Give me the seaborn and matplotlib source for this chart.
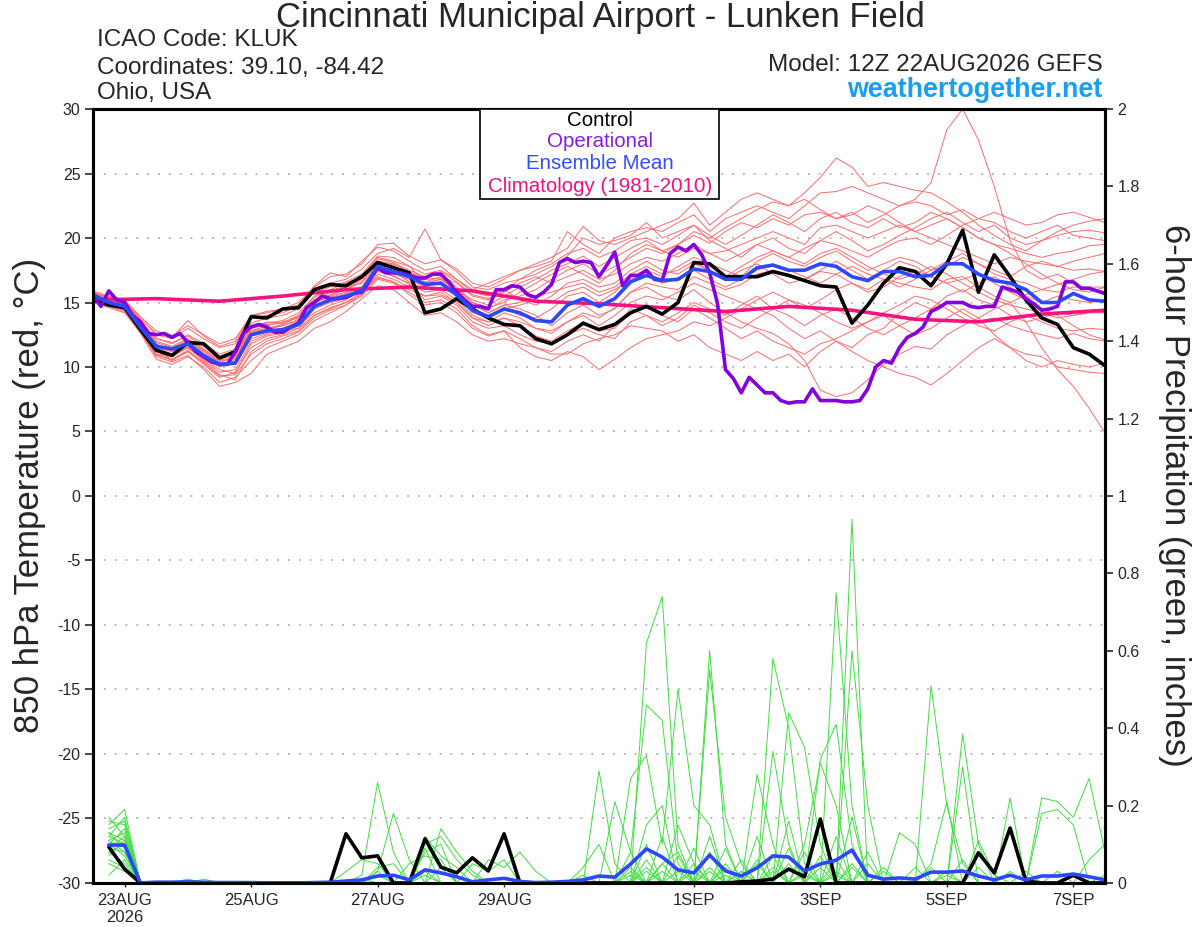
import numpy as np
import pandas as pd
import matplotlib
matplotlib.use("Agg")
import matplotlib.pyplot as plt
import seaborn as sns
from matplotlib.patches import Rectangle

# ---------------- DATA ----------------
TEMP_HOURS = list(range(0, 385, 6))      # 12Z 22AUG .. 12Z 07SEP, 6-hourly
OPER_HOURS = list(range(0, 385, 3))      # operational run, 3-hourly
PREC_HOURS = list(range(6, 385, 6))      # 6-hour precip ending times
CLIM_HOURS = list(range(0, 385, 24))     # daily climatology

tick_hours = [12, 60, 108, 156, 228, 276, 324, 372]
tick_labels = ["23AUG\n2026", "25AUG", "27AUG", "29AUG", "1SEP", "3SEP", "5SEP", "7SEP"]

control_temp = [15.2,14.8,14.6,12.9,11.3,10.9,11.9,11.8,10.7,11.2,
                13.9,13.8,14.5,14.6,16.0,16.4,16.3,17.0,18.1,17.7,
                17.3,14.2,14.5,15.3,14.5,13.8,13.3,13.2,12.2,11.8,
                12.5,13.4,12.9,13.3,14.2,14.7,14.1,15.0,18.1,18.0,
                17.0,17.0,17.0,17.4,17.1,16.7,16.3,16.2,13.4,14.8,
                16.5,17.7,17.4,16.3,18.0,20.6,15.8,18.7,17.0,15.2,
                13.8,13.3,11.5,11.0,10.1]

mean_temp = [15.6,15.0,14.7,13.1,11.6,11.4,11.8,10.9,10.2,10.3,
             12.5,12.8,12.9,13.3,14.7,15.2,15.5,15.9,17.8,17.4,
             17.0,16.4,16.5,15.6,14.4,13.9,14.5,14.2,13.6,13.5,
             14.8,15.3,14.7,15.3,16.6,17.1,16.7,16.8,17.6,17.4,
             16.8,16.8,17.7,17.9,17.5,17.5,18.0,17.8,17.0,16.7,
             17.4,17.4,17.0,17.1,18.0,18.0,17.2,16.7,16.5,16.0,
             15.0,15.0,15.7,15.2,15.1]

oper_temp = [15.6,14.7,15.9,15.2,15.0,14.0,13.5,12.6,12.5,12.6,
             12.3,12.6,11.9,11.2,10.8,10.4,10.2,10.2,11.2,12.6,
             13.1,13.3,13.1,12.7,12.7,13.1,13.4,14.6,15.0,15.5,
             15.3,15.3,15.4,15.7,15.8,16.7,17.7,17.3,17.3,17.3,
             17.1,16.9,16.9,17.2,17.2,16.6,15.8,15.2,14.7,14.7,
             14.5,16.0,16.0,16.3,16.2,15.6,15.4,15.8,16.4,18.1,
             18.4,18.1,18.2,18.1,17.0,17.9,18.9,16.3,17.1,17.1,
             17.5,16.8,16.7,18.8,19.3,19.0,19.5,18.7,17.3,14.9,
             9.8,9.1,8.0,9.2,8.6,8.0,8.0,7.4,7.2,7.3,
             7.3,8.3,7.4,7.4,7.4,7.3,7.3,7.4,8.3,10.0,
             10.5,10.3,11.5,12.3,12.6,13.1,14.3,14.6,15.0,15.0,
             15.0,14.7,14.6,14.7,14.7,16.2,16.0,15.8,15.3,14.9,
             14.4,14.5,14.7,16.6,16.6,16.1,16.1,15.9,15.7]

clim_temp = [15.2,15.3,15.1,15.5,16.0,16.2,15.9,15.1,14.9,14.6,
             14.3,14.7,14.4,13.7,13.5,14.1,14.4]

t_mem01 = [15.5,15.2,14.9,13.4,11.8,11.2,12.0,11.2,10.4,10.8, 12.8,13.2,13.5,13.8,15.0,15.6,16.0,16.8,18.2,18.0,
           17.4,16.8,16.9,16.0,15.2,14.8,15.5,16.2,16.8,17.5, 18.0,18.6,17.8,18.5,19.2,19.8,19.0,19.5,20.2,19.6,
           20.5,21.2,20.8,21.5,21.0,21.8,22.0,21.5,22.0,21.2, 21.8,22.5,23.0,24.3,28.4,30.0,27.6,24.0,19.8,17.5,
           16.8,17.2,16.5,16.0,15.8]
t_mem02 = [15.4,14.9,14.5,12.8,11.0,10.8,11.5,10.5,9.6,9.8, 12.0,12.5,12.8,13.0,14.5,15.0,15.3,15.8,17.5,17.0,
           16.5,15.8,16.0,15.2,14.0,13.5,14.2,13.8,13.0,12.6, 13.5,14.2,13.8,14.6,15.8,16.5,16.2,16.0,17.0,16.5,
           16.0,16.4,17.2,17.5,17.0,16.8,17.4,17.2,16.5,16.0, 16.8,16.5,16.2,16.0,16.8,17.0,16.2,15.5,15.0,13.5,
           11.5,9.8,8.5,6.8,4.9]
t_mem03 = [15.8,15.3,15.0,13.6,12.2,11.9,12.4,11.6,10.8,11.0, 13.0,13.5,13.4,14.0,15.2,15.8,16.2,16.5,18.0,17.8,
           17.2,17.0,17.2,16.2,15.0,14.2,14.8,14.5,14.0,13.2, 14.2,14.8,14.0,14.5,15.8,16.2,15.5,15.2,16.0,15.0,
           14.2,13.5,13.0,12.6,11.8,10.5,8.2,7.7,8.0,9.0, 10.2,11.0,11.6,11.4,12.5,13.2,13.8,14.5,15.0,15.6,
           16.0,16.4,16.8,17.2,17.4]
t_mem04 = [15.6,15.1,14.8,13.2,11.5,11.0,11.6,10.8,10.0,10.5, 12.6,12.9,13.2,13.6,15.0,15.5,15.8,16.2,18.0,17.6,
           17.0,16.5,16.8,15.8,14.8,14.5,15.2,15.5,16.0,16.8, 17.5,18.0,17.2,17.8,18.5,19.2,18.8,19.5,20.5,20.0,
           20.8,21.5,22.2,22.8,22.5,23.5,24.7,26.2,25.5,24.0, 24.3,24.0,23.7,23.5,22.8,22.0,21.0,20.2,19.5,19.0,
           19.8,20.5,21.0,21.3,21.5]
t_mem05 = [15.2,14.7,14.3,12.6,10.6,10.2,10.8,10.0,8.8,9.2, 10.5,11.5,12.0,12.5,13.6,14.2,14.8,15.5,16.8,16.5,
           15.8,15.0,15.2,14.5,13.2,12.5,12.8,11.5,10.8,10.5, 11.2,10.8,9.8,10.6,11.5,12.2,12.5,12.8,13.5,13.2,
           13.8,14.5,15.2,15.8,15.2,14.5,15.2,16.0,16.5,15.8, 16.2,17.0,17.5,17.0,16.5,16.8,17.2,16.5,15.8,15.2,
           14.5,14.0,13.2,12.5,12.1]
t_mem06 = [15.7,15.4,15.2,13.8,12.5,12.2,13.0,12.2,11.5,11.8, 13.8,14.0,14.2,14.8,16.0,16.5,16.8,17.6,18.8,19.2,
           18.5,20.7,18.3,17.4,16.2,16.0,16.5,16.8,17.2,17.8, 18.6,20.0,19.5,19.8,20.2,21.2,20.0,20.5,21.0,19.8,
           19.2,18.5,19.5,20.0,19.2,18.8,19.8,20.5,19.8,19.0, 19.5,20.2,20.8,21.5,22.0,21.2,20.5,21.0,20.0,19.5,
           19.8,20.2,20.5,20.6,20.4]
t_mem07 = [15.3,14.8,14.4,13.0,11.2,10.6,11.2,10.4,9.4,9.0, 11.2,12.0,12.4,12.8,14.0,14.6,15.0,15.6,17.2,16.8,
           16.2,15.5,15.6,15.0,13.8,13.2,13.8,13.2,12.4,12.0, 12.8,13.4,12.8,13.0,14.2,14.8,14.0,13.5,14.5,13.8,
           13.0,12.2,12.8,12.0,11.5,11.0,11.8,12.2,12.8,13.5, 14.0,13.2,12.5,13.0,13.8,14.5,13.8,12.5,11.5,10.5,
           10.0,10.5,10.2,10.0,10.3]
t_mem08 = [15.9,15.5,15.2,13.9,12.8,12.4,13.2,12.5,11.8,12.2, 14.0,14.2,14.5,15.0,16.2,17.0,17.2,18.0,19.5,19.6,
           18.6,18.0,18.3,17.6,16.5,16.2,16.8,17.5,18.0,18.5, 19.2,20.9,19.8,19.5,20.0,20.5,21.0,21.5,22.7,21.0,
           22.0,23.0,23.5,23.0,22.5,23.0,22.2,21.5,21.8,22.5, 22.0,21.2,20.5,21.0,21.5,20.8,20.0,19.5,19.2,18.8,
           18.5,18.8,19.0,19.4,19.5]
t_mem09 = [15.5,15.0,14.6,13.2,11.6,11.3,11.9,11.0,10.3,10.4, 12.4,12.7,13.0,13.5,14.8,15.3,15.6,16.0,17.6,17.2,
           16.8,16.2,16.6,15.4,14.2,13.8,14.6,14.0,13.8,14.5, 15.5,15.8,15.0,15.8,17.0,17.5,17.0,17.8,18.5,18.0,
           17.5,17.0,18.2,18.8,18.2,17.8,18.5,19.0,18.2,17.5, 18.0,18.5,18.2,17.5,17.8,18.5,18.0,17.2,16.8,16.5,
           16.0,15.8,16.2,16.2,16.2]
t_mem10 = [15.0,14.6,14.2,12.7,10.8,10.4,10.9,9.8,8.5,8.8, 9.5,11.0,11.5,12.0,13.0,13.5,14.3,15.3,16.3,16.0,
           15.0,14.0,14.2,13.5,12.5,12.0,12.2,11.8,11.5,11.0, 11.0,11.8,12.2,12.5,13.2,13.0,12.8,12.0,12.5,11.5,
           11.0,10.5,11.2,10.5,11.0,10.0,11.2,12.0,11.5,12.5, 13.0,14.2,15.0,14.5,15.5,16.0,15.2,14.8,14.0,13.5,
           13.8,14.2,14.0,14.3,14.2]
t_mem11 = [15.8,15.4,15.1,13.7,12.6,12.3,13.6,12.4,11.6,12.0, 14.0,14.3,14.5,14.8,16.3,17.3,17.0,18.2,19.3,19.0,
           18.2,17.5,17.8,16.8,16.0,16.5,17.0,17.5,17.8,18.2, 20.5,19.5,18.8,20.0,20.5,20.8,20.5,21.2,21.8,20.5,
           21.5,22.0,22.5,22.0,21.5,22.5,23.5,23.6,24.0,23.5, 23.0,22.5,22.8,22.5,21.8,22.2,21.5,22.0,21.5,21.0,
           21.2,21.8,22.0,21.6,21.2]
t_mem12 = [15.4,14.8,14.5,13.0,11.4,10.9,11.5,10.6,9.8,9.5, 11.8,12.4,12.6,13.2,14.2,14.8,15.2,16.0,17.4,17.1,
           16.4,15.2,15.5,14.8,13.5,13.0,13.2,12.5,12.0,11.8, 12.5,13.0,12.5,12.2,13.5,14.0,13.5,14.2,15.0,14.5,
           14.0,14.8,15.5,14.5,14.0,13.2,14.0,14.5,13.8,13.0, 12.5,13.2,13.8,14.5,15.0,14.2,13.5,13.8,13.2,12.8,
           12.5,12.2,12.6,12.2,12.0]
t_mem13 = [15.6,15.2,14.9,13.5,12.0,11.6,12.2,11.4,10.6,11.0, 13.2,13.4,13.6,14.2,15.5,16.0,16.5,17.0,18.5,18.2,
           17.8,16.6,17.0,16.5,15.5,15.2,15.8,16.5,17.0,16.5, 17.0,17.5,16.8,17.2,18.0,18.5,18.2,18.8,19.5,18.8,
           19.0,19.5,20.0,20.5,20.0,19.5,20.8,21.0,20.5,20.0, 20.5,21.0,20.5,20.0,19.5,19.0,18.5,18.0,18.5,18.2,
           18.0,17.8,18.2,18.5,18.8]
t_mem14 = [15.3,14.9,14.4,12.9,11.0,10.5,11.2,10.2,9.2,9.6, 11.5,12.2,12.5,13.0,14.0,14.5,15.0,15.8,17.0,16.6,
           16.0,15.5,15.8,15.0,13.8,13.5,13.8,13.5,13.0,12.8, 13.5,14.0,13.2,14.0,15.0,15.5,15.2,15.8,16.5,16.0,
           15.5,15.0,14.5,14.0,13.0,12.2,12.8,12.0,11.2,10.5, 10.0,9.5,9.2,8.6,9.5,10.5,11.5,12.2,11.5,11.0,
           10.8,10.0,9.8,9.6,9.5]
t_mem15 = [15.7,15.3,15.0,13.5,12.2,11.8,12.5,11.8,11.0,11.4, 13.4,13.8,14.0,14.5,15.8,16.2,16.6,17.2,18.6,18.5,
           17.8,17.2,17.5,16.8,15.8,15.5,16.0,15.2,14.8,15.5, 16.5,16.8,16.2,16.5,17.5,18.2,17.5,17.2,18.0,17.5,
           16.8,17.5,18.0,17.2,16.5,16.8,17.5,18.2,17.5,16.8, 17.5,18.2,17.8,17.0,16.5,15.8,16.5,17.0,16.2,15.5,
           15.0,15.5,15.2,15.0,15.2]
t_mem16 = [15.5,15.1,14.7,13.3,11.7,11.4,12.0,11.2,10.4,10.7, 12.7,13.0,13.3,13.9,15.2,15.6,16.0,16.6,18.2,17.9,
           17.2,16.5,16.8,16.0,15.0,14.6,15.0,15.8,16.5,17.2, 17.8,17.2,16.5,17.5,18.8,19.5,19.0,18.5,19.2,18.8,
           18.2,18.8,19.5,19.0,18.5,19.2,19.8,19.5,19.0,18.5, 19.2,19.8,20.0,19.5,20.2,21.0,21.5,21.2,20.5,20.0,
           20.5,21.0,20.2,20.0,19.8]
t_mem17 = [15.4,15.0,14.6,13.1,11.3,11.0,11.7,10.9,10.1,10.2, 12.2,12.6,12.9,13.4,14.6,15.1,15.4,16.1,17.6,17.4,
           16.6,16.0,16.2,15.5,14.5,14.0,14.5,14.8,15.2,15.0, 15.8,16.2,15.5,16.0,16.8,17.2,16.5,16.8,17.5,16.8,
           16.2,16.8,17.5,18.0,17.5,17.0,16.5,17.2,17.8,17.2, 16.8,16.2,16.8,17.5,18.2,18.8,18.0,17.5,17.0,17.8,
           18.2,17.8,17.5,17.6,17.4]
t_mem18 = [15.2,14.8,14.4,12.8,10.9,10.6,11.3,10.3,9.3,9.4, 11.0,11.8,12.2,12.7,13.8,14.4,14.8,15.7,16.9,16.6,
           15.6,14.8,15.0,14.2,13.0,12.4,12.8,12.2,11.5,11.2, 12.0,12.5,12.0,13.2,14.5,14.0,13.2,13.8,14.8,14.2,
           13.5,13.0,13.8,14.5,15.2,14.8,14.2,13.5,13.0,13.5, 14.2,14.8,15.5,15.2,14.5,13.8,13.2,12.8,13.5,14.0,
           13.5,13.0,12.8,13.0,12.9]
t_mem19 = [15.6,15.2,14.8,13.4,11.9,11.5,12.1,11.3,10.5,10.9, 13.0,13.3,13.4,14.0,15.4,15.9,16.3,16.9,18.4,18.1,
           17.5,17.0,17.4,16.6,15.6,15.3,15.9,16.8,17.5,18.0, 18.8,19.2,18.5,19.0,19.8,20.0,19.5,20.2,21.0,20.2,
           19.5,20.2,21.0,21.8,21.2,20.5,21.5,22.0,21.2,20.8, 21.5,20.8,21.2,22.0,21.5,20.8,20.0,19.5,18.8,18.0,
           17.2,16.5,16.0,15.8,16.2]
t_mem20 = [15.5,15.0,14.7,13.2,11.5,11.2,11.8,11.0,10.2,10.6, 12.8,13.0,13.2,13.7,15.0,15.4,15.7,16.2,17.8,17.5,
           16.9,16.3,16.6,15.8,14.8,14.2,14.8,15.0,15.5,15.8, 16.2,16.5,15.8,16.2,17.2,17.8,17.2,17.5,18.2,17.5,
           17.0,17.8,18.5,19.0,18.5,18.0,18.8,19.2,18.5,17.8, 17.2,16.8,17.2,17.8,17.2,16.5,15.8,15.2,14.8,14.5,
           14.2,13.8,14.0,14.2,14.2]

control_prec = [.093,.036,0,0,0,0,0,0,  0,0,0,0,0,0,0,.127,  .065,.07,0,0,.114,.041,.026,.065,
                .031,.127,0,0,0,0,0,0,  0,0,0,0,0,0,0,0,  .003,.005,.01,.036,.016,.165,0,0,
                0,0,0,0,0,0,0,.078,  .026,.142,.005,0,0,.02,0,0]
mean_prec = [.098,.098,0,.002,.002,.003,.002,.001,  .001,.001,0,0,0,.001,.002,.005,
             .008,.018,.02,.008,.034,.026,.016,.003,  .008,.012,.004,.001,.002,.004,.008,.018,
             .015,.049,.088,.067,.034,.026,.072,.031,  .018,.039,.07,.067,.031,.049,.059,.085,
             .02,.01,.013,.01,.028,.028,.031,.018,  .008,.02,.008,.018,.018,.023,.016,.008]

p_mem01 = [.17,.12,0,0,0,0,0,0, 0,0,0,0,0,0,0,0, .02,.26,.08,0,0,0,0,0, 0,0,0,0,0,0,0,.29,
           .05,0,.62,.74,.10,0,.60,.10, 0,0,.58,.40,.05,0,0,.94, 0,0,0,0,0,0,0,0, 0,0,0,0,0,0,0,0]
p_mem02 = [.15,.19,0,0,0,0,0,0, 0,0,0,0,0,0,0,0, 0,.03,.18,.06,0,0,0,0, 0,0,0,0,0,0,0,0,
           .21,.08,.46,.42,.05,0,0,0, 0,.28,.10,0,0,0,.75,.20, 0,0,0,0,.51,.20,.05,0, 0,0,0,0,0,0,0,0]
p_mem03 = [.12,.10,0,0,0,0,0,0, 0,0,0,0,0,0,0,0, 0,0,0,0,.12,.07,.04,0, 0,0,0,0,0,0,0,0,
           0,.27,.33,.10,.50,.20,.15,0, 0,0,0,.44,.35,.10,0,.60, .20,0,0,0,0,0,.385,.10, 0,0,0,0,0,0,0,0]
p_mem04 = [.10,.14,0,0,0,0,0,0, 0,0,0,0,0,0,0,0, 0,0,0,0,0,.14,.08,.03, 0,0,0,0,0,0,0,0,
           0,0,.15,.20,0,0,.55,.17, .05,0,.34,.10,0,.32,.41,.10, 0,0,0,0,0,0,.30,0, 0,.22,0,0,0,0,0,0]
p_mem05 = [.09,.08,0,0,0,0,.01,0, 0,0,0,0,0,0,0,.03, .06,.05,0,0,.09,0,0,0, 0,0,0,0,0,0,.04,.10,
           0,0,.10,0,.15,.05,0,0, 0,0,0,0,.10,.31,.20,0, 0,0,0,0,0,0,0,0, 0,0,0,.22,.21,.17,.27,.08]
p_mem06 = [.14,.16,0,0,0,0,0,0, 0,0,0,0,0,0,0,0, 0,0,0,0,.10,.12,.06,.02, 0,0,0,0,0,0,0,0,
           0,.08,0,.12,0,.09,0,.05, 0,.12,0,.16,0,0,0,.17, 0,0,.13,.10,0,0,0,0, 0,0,0,.18,.19,.15,0,0]
p_mem07 = [.08,.05,0,0,0,0,0,0, 0,0,0,0,0,0,0,0, 0,0,0,0,0,0,0,0, .06,.04,.08,.03,0,0,0,0,
           0,0,0,.05,.08,0,.12,0, .03,0,.07,0,0,0,.06,0, 0,.04,0,0,.05,.21,0,0, 0,0,0,0,0,0,0,0]
p_mem08 = [.11,.13,0,0,0,0,0,0, 0,0,0,0,0,0,0,0, 0,0,0,.05,.07,.06,0,0, 0,0,0,0,0,0,0,0,
           0,0,.06,0,0,.03,0,.04, 0,.05,0,0,.08,0,0,0, .05,0,0,0,0,0,0,.11, .02,0,0,0,0,0,0,0]
p_mem09 = [.13,.09,0,0,0,0,0,0, 0,0,0,0,0,0,0,0, 0,.04,.05,0,.08,.10,0,0, 0,0,0,0,0,0,0,0,
           0,0,0,0,.07,0,.04,0, .06,0,0,.09,0,0,.12,0, 0,.03,0,0,0,0,.06,0, 0,0,0,0,0,0,0,0]
p_mem10 = [.07,.11,0,0,0,0,0,0, 0,0,0,0,0,0,0,0, 0,0,0,0,0,0,0,.05, .03,.06,0,0,0,0,0,0,
           0,.03,0,.05,0,0,0,.09, 0,0,.04,0,0,.07,0,0, 0,0,0,.04,0,0,0,0, 0,0,0,0,0,0,.06,.10]
p_mem11 = [.16,.15,0,0,0,0,0,0, 0,0,0,0,0,0,0,0, 0,.02,0,0,.03,0,0,0, 0,0,0,0,0,0,0,0,
           0,0,0,0,0,.05,0,0, .03,0,0,0,.03,0,0,.05, 0,0,0,0,0,.03,0,0, 0,0,0,0,0,0,0,0]
p_mem12 = [.06,.04,0,0,0,0,0,0, 0,0,0,0,0,0,0,0, 0,0,0,0,0,0,0,0, 0,0,0,0,0,0,0,0,
           0,0,.04,0,0,0,.03,0, 0,0,0,.05,0,0,0,0, .08,0,0,0,0,0,0,.04, 0,0,0,0,0,0,0,0]
p_mem13 = [.12,.17,0,0,0,0,0,0, 0,0,0,0,0,0,0,0, 0,.03,0,0,0,.04,0,0, 0,0,0,0,0,0,0,0,
           0,0,0,0,.03,0,0,0, 0,.06,0,0,0,0,.03,0, 0,0,0,0,.04,0,0,0, 0,.03,0,0,0,0,0,0]
p_mem14 = [.10,.07,0,0,0,.01,0,0, 0,0,0,0,0,0,0,0, 0,0,0,0,0,0,0,0, 0,0,0,0,0,0,.02,0,
           0,.04,0,0,0,0,0,.02, 0,0,0,0,0,.04,0,0, 0,0,0,0,0,0,0,0, 0,0,.03,0,0,0,0,0]
p_mem15 = [.05,.03,0,0,0,0,0,0, 0,0,0,0,0,0,0,0, .01,0,0,0,0,0,0,0, 0,0,0,0,0,0,0,0,
           0,0,.03,0,0,0,0,0, 0,0,0,0,.02,0,0,0, 0,0,0,0,0,0,0,0, 0,0,0,0,.03,0,0,0]
p_mem16 = [.09,.12,0,0,0,0,0,0, 0,0,0,0,0,0,0,0, 0,0,0,0,0,0,0,0, 0,0,0,0,0,0,0,0,
           0,0,0,0,0,0,.08,0, 0,0,0,0,0,0,0,.04, 0,0,0,0,0,0,0,0, 0,0,0,0,0,0,0,0]
p_mem17 = [.13,.11,0,0,0,0,0,0, 0,0,0,0,0,0,0,0, 0,0,0,0,.02,0,0,0, 0,0,0,0,0,0,0,0,
           0,.02,0,0,0,0,0,0, 0,0,.03,0,0,0,0,0, 0,0,0,0,0,.02,0,0, 0,0,0,0,0,0,0,0]
p_mem18 = [.02,.06,0,0,0,0,0,0, 0,0,0,0,0,0,0,0, 0,0,0,0,0,0,0,0, 0,0,0,0,0,0,0,0,
           0,0,0,0,0,0,0,0, 0,0,0,0,0,0,.02,0, 0,0,0,0,0,0,0,0, 0,0,0,0,0,0,0,.02]
p_mem19 = [.11,.08,0,0,0,0,0,0, 0,0,0,0,0,0,0,0, 0,0,0,0,0,0,0,0, 0,0,0,0,0,0,0,0,
           0,0,0,.03,0,0,0,0, 0,0,0,0,0,0,0,0, 0,0,0,0,0,0,0,0, 0,0,0,0,0,0,0,0]
p_mem20 = [.08,.10,0,0,0,0,0,0, 0,0,0,0,0,0,0,0, 0,0,0,0,0,0,0,0, 0,0,0,0,0,0,0,0,
           0,0,0,0,0,0,0,0, 0,0,0,0,0,0,0,0, 0,0,0,0,0,0,0,0, 0,0,0,0,0,0,0,0]

legend_labels = ["Control", "Operational", "Ensemble Mean", "Climatology (1981-2010)"]

# ---------------- STYLE ----------------
C_MEM_T = "#ff6a6a"
C_MEM_P = "#3ee03e"
C_CTRL = "#000000"
C_OPER = "#8400dc"
C_MEAN = "#2b48ff"
C_CLIM = "#f5137f"
C_LEG = ["#000000", "#8a1ee0", "#3050ff", "#f01080"]

sns.set_style("white")
plt.rcParams['font.family'] = ['Liberation Sans', 'DejaVu Sans']
plt.rcParams['axes.unicode_minus'] = False

# ---------------- FRAMES ----------------
temp_members = [t_mem01, t_mem02, t_mem03, t_mem04, t_mem05, t_mem06, t_mem07, t_mem08, t_mem09, t_mem10,
                t_mem11, t_mem12, t_mem13, t_mem14, t_mem15, t_mem16, t_mem17, t_mem18, t_mem19, t_mem20]
prec_members = [p_mem01, p_mem02, p_mem03, p_mem04, p_mem05, p_mem06, p_mem07, p_mem08, p_mem09, p_mem10,
                p_mem11, p_mem12, p_mem13, p_mem14, p_mem15, p_mem16, p_mem17, p_mem18, p_mem19, p_mem20]

df_tm = pd.DataFrame([(k, h, v) for k, vals in enumerate(temp_members) for h, v in zip(TEMP_HOURS, vals)],
                     columns=["member", "hour", "value"])
df_pm = pd.DataFrame([(k, h, v) for k, vals in enumerate(prec_members) for h, v in zip(PREC_HOURS, vals)],
                     columns=["member", "hour", "value"])
df_ctrl_t = pd.DataFrame({"hour": TEMP_HOURS, "value": control_temp})
df_mean_t = pd.DataFrame({"hour": TEMP_HOURS, "value": mean_temp})
df_oper_t = pd.DataFrame({"hour": OPER_HOURS, "value": oper_temp})
df_clim_t = pd.DataFrame({"hour": CLIM_HOURS, "value": clim_temp})
df_ctrl_p = pd.DataFrame({"hour": PREC_HOURS, "value": control_prec})
df_mean_p = pd.DataFrame({"hour": PREC_HOURS, "value": mean_prec})

# ---------------- FIGURE ----------------
fig = plt.figure(figsize=(12, 9.27), dpi=100)
ax = fig.add_axes([0.0775, 0.0475, 0.8433, 0.8349])
ax2 = ax.twinx()

ax.set_xlim(0, 384)
ax.set_ylim(-30, 30)
ax2.set_ylim(0, 2)

ax.set_yticks(np.arange(-30, 31, 5))
ax.yaxis.grid(True, color="#b0b0b0", linestyle=(0, (1.0, 5.0)), linewidth=1.3)
ax.xaxis.grid(False)
ax.set_axisbelow(True)

lw_thick = 2.6
sns.lineplot(data=df_tm, x="hour", y="value", units="member", estimator=None,
             color=C_MEM_T, linewidth=0.7, ax=ax, legend=False)
sns.lineplot(data=df_clim_t, x="hour", y="value", color=C_CLIM, linewidth=lw_thick, ax=ax)
sns.lineplot(data=df_ctrl_t, x="hour", y="value", color=C_CTRL, linewidth=lw_thick, ax=ax)
sns.lineplot(data=df_oper_t, x="hour", y="value", color=C_OPER, linewidth=lw_thick, ax=ax)
sns.lineplot(data=df_mean_t, x="hour", y="value", color=C_MEAN, linewidth=lw_thick, ax=ax)

sns.lineplot(data=df_pm, x="hour", y="value", units="member", estimator=None,
             color=C_MEM_P, linewidth=0.7, ax=ax2, legend=False)
sns.lineplot(data=df_ctrl_p, x="hour", y="value", color=C_CTRL, linewidth=lw_thick, ax=ax2)
sns.lineplot(data=df_mean_p, x="hour", y="value", color=C_MEAN, linewidth=lw_thick, ax=ax2)

ax.set_xlabel("")
ax.set_ylabel("")
ax2.set_ylabel("")
ax.set_xticks(tick_hours)
ax.set_xticklabels(tick_labels)
rt = np.round(np.arange(0, 2.01, 0.2), 1)
ax2.set_yticks(rt)
ax2.set_yticklabels([f"{v:g}" for v in rt])

ax.tick_params(axis="y", direction="out", length=6, width=1.2, labelsize=11.5, pad=3, left=True)
ax.tick_params(axis="x", direction="out", length=3, width=1.0, labelsize=12, pad=4, bottom=True)
ax2.tick_params(axis="y", direction="out", length=6, width=1.2, labelsize=11.5, pad=3, right=True)

for a in (ax, ax2):
    for s in a.spines.values():
        s.set_visible(True)
        s.set_color("black")
        s.set_linewidth(2.2)

# Legend box (coloured, centred text only)
box_x0, box_x1, box_y0 = 0.3824, 0.6186, 0.884
ax2.add_patch(Rectangle((box_x0, box_y0), box_x1 - box_x0, 1.0 - box_y0, transform=ax2.transAxes,
                        facecolor="white", edgecolor="black", linewidth=1.2, zorder=5))
for lab, col, yy in zip(legend_labels, C_LEG, [0.9847, 0.9576, 0.9298, 0.9005]):
    ax2.text(0.501, yy, lab, transform=ax2.transAxes, ha="center", va="center",
             fontsize=14.8, color=col, zorder=6)

# Titles and annotations
fig.text(0.5, 0.9709, "Cincinnati Municipal Airport - Lunken Field", ha="center", va="baseline", fontsize=25)
fig.text(0.081, 0.9504, "ICAO Code: KLUK", ha="left", va="baseline", fontsize=17.5)
fig.text(0.081, 0.9202, "Coordinates: 39.10, -84.42", ha="left", va="baseline", fontsize=17.5)
fig.text(0.081, 0.8932, "Ohio, USA", ha="left", va="baseline", fontsize=17.5)
fig.text(0.919, 0.9234, "Model: 12Z 22AUG2026 GEFS", ha="right", va="baseline", fontsize=17.5)
fig.text(0.919, 0.8954, "weathertogether.net", ha="right", va="baseline", fontsize=19.4,
         fontweight="bold", color="#1a9ef2")
fig.text(0.025, 0.466, "850 hPa Temperature (red, °C)", rotation=90, ha="center", va="center", fontsize=25)
fig.text(0.979, 0.466, "6-hour Precipitation (green, inches)", rotation=270, ha="center", va="center", fontsize=25)

fig.savefig("out.png", dpi=100)
